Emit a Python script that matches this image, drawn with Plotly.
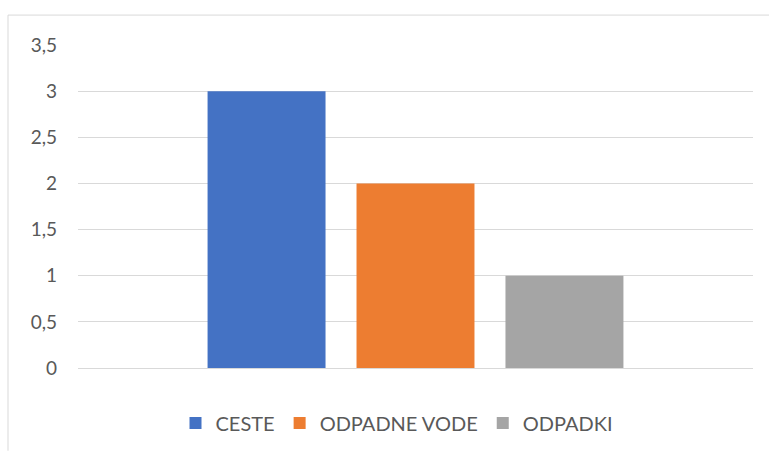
import plotly.graph_objects as go

# data
series_names = ["CESTE", "ODPADNE VODE", "ODPADKI"]
series_values = [3, 2, 1]
series_colors = ["#4472C4", "#ED7D31", "#A5A5A5"]
category = [""]

fig = go.Figure()
for name, val, col in zip(series_names, series_values, series_colors):
    fig.add_trace(go.Bar(x=category, y=[val], name=name, marker_color=col,
                         marker_line_width=0))

W, H = 769, 453
ml, mr, mt, mb = 78, 16, 45, 84
pw, ph = W - ml - mr, H - mt - mb

def px_x(x):
    return (x - ml) / pw

def px_y(y):
    return 1 - (y - mt) / ph

# outer chart border (Excel style)
border = dict(color="#D9D9D9", width=1)
shapes = [
    dict(type="line", xref="paper", yref="paper", x0=px_x(8), x1=px_x(8),
         y0=px_y(15), y1=px_y(452), line=border),
    dict(type="line", xref="paper", yref="paper", x0=px_x(8), x1=px_x(775),
         y0=px_y(15), y1=px_y(15), line=border),
]

fig.update_layout(
    width=W, height=H,
    margin=dict(l=ml, r=mr, t=mt, b=mb),
    paper_bgcolor="white", plot_bgcolor="white",
    font=dict(family="Lato", size=19, color="#595959"),
    separators=",.",
    barmode="group", bargap=0.338, bargroupgap=0.208,
    showlegend=True,
    legend=dict(orientation="h", x=px_x(397), xanchor="center",
                y=px_y(423), yanchor="middle", font=dict(size=20),
                itemwidth=30),
    shapes=shapes,
)
fig.update_xaxes(showgrid=False, showline=True, linecolor="#D9D9D9",
                 linewidth=1, showticklabels=False, ticks="")
fig.update_yaxes(range=[0, 3.5], dtick=0.5, gridcolor="#D9D9D9", gridwidth=1,
                 zeroline=False, showline=False, ticks="", ticklabelstandoff=20)

# drop the default page margin so the figure sits at the window origin
fig.write_html("out.html", config={"displayModeBar": False},
               post_script="document.body.style.margin='0';")
